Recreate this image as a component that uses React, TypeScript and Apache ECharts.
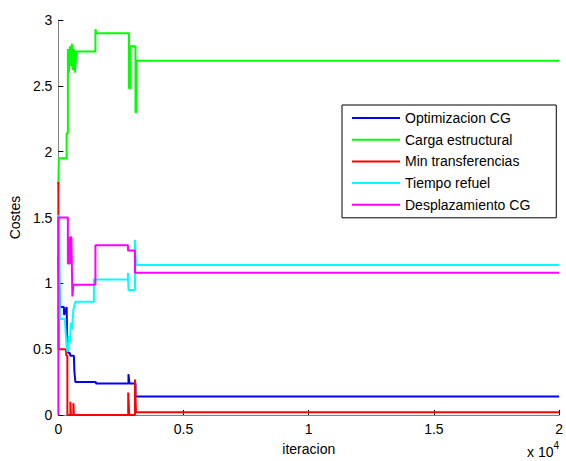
import React, { useEffect, useRef } from "react";
import * as echarts from "echarts";

const seriesNames = ["Optimizacion CG", "Carga estructural", "Min transferencias", "Tiempo refuel", "Desplazamiento CG"];
const seriesColors = ["#0000ff", "#00ff00", "#ff0000", "#00ffff", "#ff00ff"];

const optimizacion: [number, number][] = [
  [0, 1.2], [60, 0.82], [220, 0.82], [230, 0.76], [330, 0.82], [360, 0.5], [400, 0.47], [460, 0.47],
  [480, 0.45], [620, 0.45], [640, 0.33], [680, 0.25], [1500, 0.25], [1500, 0.24], [2800, 0.24],
  [2800, 0.31], [2840, 0.24], [3080, 0.24], [3080, 0.14], [20000, 0.14],
];
const carga: [number, number][] = [
  [0, 1.75], [20, 1.95], [330, 1.95], [330, 2.14], [380, 2.14], [380, 2.78], [420, 2.6], [460, 2.8],
  [500, 2.65], [540, 2.82], [580, 2.62], [620, 2.78], [660, 2.6], [700, 2.7], [720, 2.76], [1480, 2.76],
  [1480, 2.93], [1520, 2.9], [2820, 2.9], [2820, 2.48], [2860, 2.48], [2860, 2.8], [3080, 2.8],
  [3080, 2.3], [3120, 2.3], [3120, 2.69], [20000, 2.69],
];
const minTransf: [number, number][] = [
  [0, 1.77], [10, 0.5], [300, 0.5], [320, 0.45], [360, 0.45], [360, 0], [480, 0], [480, 0.1], [500, 0],
  [600, 0], [600, 0.09], [620, 0], [2790, 0], [2790, 0.17], [2830, 0], [3060, 0], [3060, 0.27],
  [3100, 0.02], [20000, 0.02],
];
const tiempo: [number, number][] = [
  [0, 1.52], [40, 1.5], [60, 0.73], [260, 0.73], [300, 0.6], [340, 0.5], [380, 0.48], [420, 0.6],
  [460, 0.55], [500, 0.7], [540, 0.65], [600, 0.8], [680, 0.86], [1420, 0.86], [1420, 1.03],
  [2780, 1.03], [2780, 1.08], [2800, 0.95], [3060, 0.95], [3060, 1.33], [3100, 1.14], [20000, 1.14],
];
const desplaz: [number, number][] = [
  [0, 0], [0, 1.5], [380, 1.5], [380, 1.15], [460, 1.15], [460, 1.35], [520, 1.35], [560, 0.9],
  [600, 0.99], [1480, 0.99], [1480, 1.29], [2780, 1.29], [2780, 1.25], [3060, 1.25], [3060, 1.08],
  [20000, 1.08],
];
const allData = [optimizacion, carga, minTransf, tiempo, desplaz];

const xTicks = [0, 5000, 10000, 15000, 20000];
const yTicks = [0, 0.5, 1, 1.5, 2, 2.5, 3];

const FONT = "Liberation Sans, Arial, sans-serif";

export default function App() {
  const ref = useRef<HTMLDivElement>(null);
  useEffect(() => {
    if (!ref.current) return;
    const chart = echarts.init(ref.current, undefined, { renderer: "svg" });
    chart.setOption({
      animation: false,
      backgroundColor: "#ffffff",
      grid: { left: 58, right: 4, top: 20, bottom: 45 },
      legend: {
        orient: "vertical",
        left: 342,
        top: 105,
        padding: [6, 26, 6, 10],
        itemGap: 7.7,
        itemWidth: 48,
        itemHeight: 2,
        icon: "rect",
        borderColor: "#000000",
        borderWidth: 1,
        backgroundColor: "#ffffff",
        textStyle: { fontSize: 14, fontFamily: FONT, color: "#000", lineHeight: 14 },
        data: seriesNames,
      },
      xAxis: {
        type: "value",
        min: xTicks[0],
        max: xTicks[xTicks.length - 1],
        interval: 5000,
        splitLine: { show: false },
        axisLine: { show: true, lineStyle: { color: "#808080", width: 1 } },
        axisTick: { show: true, inside: true, length: 5, lineStyle: { color: "#000" } },
        axisLabel: {
          fontSize: 14,
          fontFamily: FONT,
          color: "#000",
          margin: 7,
          formatter: (v: number) => String(v / 10000),
        },
        name: "iteracion",
        nameLocation: "middle",
        nameGap: 27,
        nameTextStyle: { fontSize: 14, fontFamily: FONT, color: "#000" },
      },
      yAxis: {
        type: "value",
        min: yTicks[0],
        max: yTicks[yTicks.length - 1],
        interval: 0.5,
        splitLine: { show: false },
        axisLine: { show: true, lineStyle: { color: "#808080", width: 1 } },
        axisTick: { show: true, inside: true, length: 5, lineStyle: { color: "#000" } },
        axisLabel: { fontSize: 14, fontFamily: FONT, color: "#000", margin: 6 },
        name: "Costes",
        nameLocation: "middle",
        nameGap: 35,
        nameRotate: 90,
        nameTextStyle: { fontSize: 14, fontFamily: FONT, color: "#000" },
      },
      graphic: [
        {
          type: "text",
          left: 527,
          top: 440,
          style: {
            text: "{a|x 10}{b|4}",
            rich: {
              a: { fontSize: 14, fontFamily: FONT, fill: "#000", padding: [6, 0, 0, 0] },
              b: { fontSize: 10, fontFamily: FONT, fill: "#000", padding: [0, 0, 8, 0] },
            },
          },
        },
      ],
      series: seriesNames.map((name, i) => ({
        name,
        type: "line",
        data: allData[i],
        showSymbol: false,
        symbol: "none",
        color: seriesColors[i],
        lineStyle: { width: 2, color: seriesColors[i] },
        z: 2 + i,
      })),
    });
    return () => chart.dispose();
  }, []);
  return <div ref={ref} style={{ width: 566, height: 461, position: "absolute", left: 0, top: 0 }} />;
}
